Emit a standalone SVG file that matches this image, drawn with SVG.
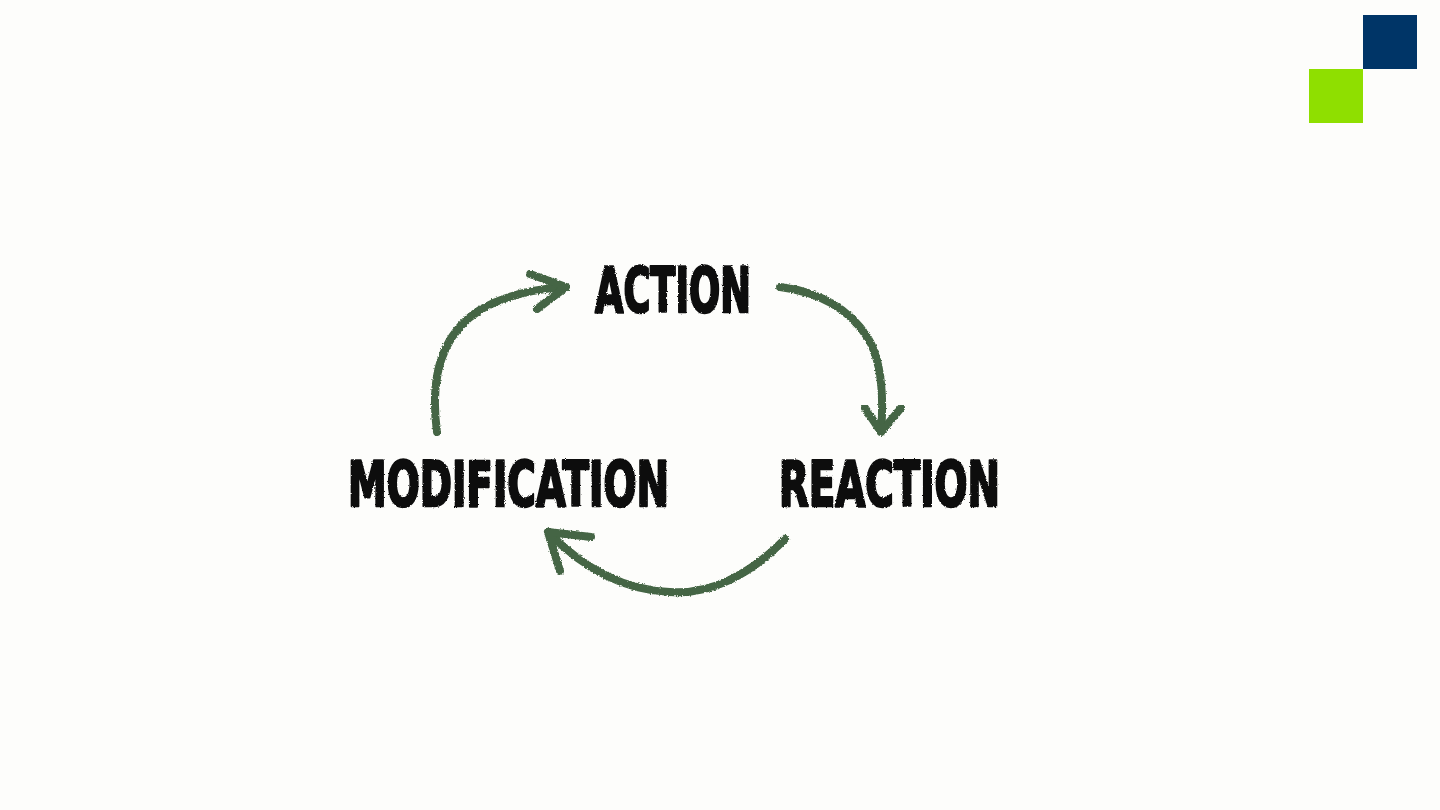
<svg xmlns="http://www.w3.org/2000/svg" width="1440" height="810" viewBox="0 0 1440 810">
<style>
.lbl{font-family:"DejaVu Sans Condensed","DejaVu Sans","Liberation Sans",sans-serif;font-weight:bold;font-size:62px;fill:#111111;stroke:#111111;stroke-width:2.5;stroke-linejoin:round;}
.arc{fill:none;stroke:#446544;stroke-width:8;stroke-linecap:round;stroke-linejoin:round;filter:url(#rough);}
</style>
<defs>
<filter id="rough" x="-10%" y="-10%" width="120%" height="120%">
<feTurbulence type="fractalNoise" baseFrequency="0.6" numOctaves="2" seed="3" result="n"/>
<feDisplacementMap in="SourceGraphic" in2="n" scale="3" xChannelSelector="R" yChannelSelector="G"/>
</filter>
<filter id="grain" x="-5%" y="-5%" width="110%" height="110%">
<feTurbulence type="fractalNoise" baseFrequency="0.9" numOctaves="2" seed="7" result="n"/>
<feDisplacementMap in="SourceGraphic" in2="n" scale="2.5" xChannelSelector="R" yChannelSelector="G"/>
</filter>
</defs>
<rect width="1440" height="810" fill="#fdfdfb"/>
<g id="logo">
<rect x="1363" y="15" width="54" height="54" fill="#003567"/>
<rect x="1309" y="69" width="54" height="54" fill="#8fdf00"/>
</g>
<g id="node-action" filter="url(#grain)"><text class="lbl" x="595" y="312" textLength="156" lengthAdjust="spacingAndGlyphs">ACTION</text></g>
<g id="node-reaction" filter="url(#grain)"><text class="lbl" x="779" y="506" textLength="221" lengthAdjust="spacingAndGlyphs">REACTION</text></g>
<g id="node-modification" filter="url(#grain)"><text class="lbl" x="348" y="506" textLength="321" lengthAdjust="spacingAndGlyphs">MODIFICATION</text></g>
<g id="connectors">
<path class="arc" d="M437,432 C430,380 440,335 480,310 C505,295 535,289 565,287"/>
<path class="arc" d="M530,274 L566,287 L537,309"/>
<path class="arc" d="M780,287 C820,292 850,310 868,338 C882,362 884,395 881,432"/>
<path class="arc" d="M865,408 L881,432 L901,408"/>
<path class="arc" d="M785,539 C750,575 710,595 670,592 C620,590 580,565 548,532"/>
<path class="arc" d="M560,571 L548,532 L591,537"/>
</g>
</svg>
